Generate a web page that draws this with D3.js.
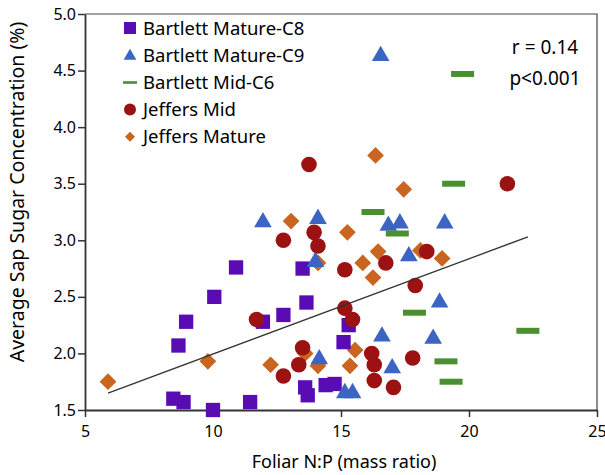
<!DOCTYPE html>
<html>
<head>
<meta charset="utf-8">
<script src="https://cdn.jsdelivr.net/npm/d3@7"></script>
<style>
  body { margin: 0; background: #fff; }
  svg text { font-family: "Noto Sans", "Open Sans", sans-serif; fill: #000; }
</style>
</head>
<body>
<div class="chart"></div>
<script>
// data
var c8X = [8.95, 8.65, 10.05, 10.9, 8.45, 8.85, 10.0, 11.45, 11.95, 12.75, 13.5, 13.65, 15.1, 15.3, 13.6, 13.7, 14.4, 14.75];
var c8Y = [2.28, 2.07, 2.50, 2.76, 1.60, 1.57, 1.50, 1.57, 2.28, 2.34, 2.75, 2.45, 2.10, 2.25, 1.70, 1.63, 1.72, 1.73];

var c9X = [16.55, 11.95, 14.1, 16.85, 17.3, 19.05, 17.65, 14.0, 18.85, 16.6, 18.6, 17.0, 14.15, 15.15, 15.45];
var c9Y = [4.63, 3.16, 3.19, 3.13, 3.15, 3.15, 2.86, 2.81, 2.45, 2.15, 2.13, 1.87, 1.95, 1.65, 1.65];

var c6X = [19.75, 16.25, 17.2, 19.4, 17.87, 19.1, 19.3, 22.3];
var c6Y = [4.47, 3.25, 3.06, 3.50, 2.36, 1.93, 1.75, 2.20];

var midX = [13.75, 13.95, 12.75, 14.1, 15.15, 16.75, 18.35, 17.9, 21.5, 11.7, 15.15, 15.45, 13.5, 13.35, 12.75, 16.2, 16.3, 16.3, 17.05, 17.8];
var midY = [3.67, 3.07, 3.00, 2.95, 2.74, 2.80, 2.90, 2.60, 3.50, 2.30, 2.40, 2.30, 2.05, 1.90, 1.80, 2.00, 1.90, 1.76, 1.70, 1.96];

var matX = [16.35, 17.45, 13.05, 15.25, 16.45, 18.1, 18.95, 14.1, 15.85, 16.25, 5.9, 9.8, 12.25, 13.6, 14.1, 15.55, 15.35];
var matY = [3.75, 3.45, 3.17, 3.07, 2.90, 2.91, 2.84, 2.80, 2.80, 2.67, 1.75, 1.93, 1.90, 2.00, 1.89, 2.03, 1.89];

// trend line end points
var trendX = [5.9, 22.3];
var trendY = [1.65, 3.03];

var xTicks = [5, 10, 15, 20, 25];
var yTicks = [1.5, 2.0, 2.5, 3.0, 3.5, 4.0, 4.5, 5.0];

var seriesNames = ["Bartlett Mature-C8", "Bartlett Mature-C9", "Bartlett Mid-C6", "Jeffers Mid", "Jeffers Mature"];
var seriesColors = ["#5a0cb4", "#3b64c3", "#4b9030", "#9c1212", "#c9651f"];

var svgWidth = 605;
var svgHeight = 475;
var margin = { top: 14, right: 8, bottom: 65, left: 85 };
var width = svgWidth - margin.left - margin.right;
var height = svgHeight - margin.top - margin.bottom;

var svg = d3.select(".chart").append("svg")
  .attr("width", svgWidth)
  .attr("height", svgHeight);

var chartGroup = svg.append("g")
  .attr("transform", `translate(${margin.left}, ${margin.top})`);

var x = d3.scaleLinear().domain([5, 25]).range([0, width]);
var y = d3.scaleLinear().domain([1.5, 5.0]).range([height, 0]);

// frame top + right
chartGroup.append("path")
  .attr("d", `M0,0H${width}V${height}`)
  .attr("fill", "none")
  .attr("stroke", "#444")
  .attr("stroke-width", 1.2);

// axes
var xAxis = chartGroup.append("g")
  .attr("transform", `translate(0, ${height})`)
  .call(d3.axisBottom(x).tickValues(xTicks).tickFormat(d3.format("d")).tickSize(7).tickSizeOuter(0));
var yAxis = chartGroup.append("g")
  .call(d3.axisLeft(y).tickValues(yTicks).tickFormat(d3.format(".1f")).tickSize(7).tickSizeOuter(0));

[xAxis, yAxis].forEach(function (ax) {
  ax.select(".domain").attr("stroke", "#333").attr("stroke-width", 1.8);
  ax.selectAll(".tick line").attr("stroke", "#333").attr("stroke-width", 1.5);
  ax.selectAll(".tick text").style("font-size", "16px").attr("fill", "#000");
});
xAxis.selectAll(".tick text").attr("dy", "1.05em");
yAxis.selectAll(".tick text").attr("x", -9);

// helper to zip arrays
function zip(xs, ys) {
  return xs.map(function (d, i) { return { x: d, y: ys[i] }; });
}

// Jeffers Mature diamonds
chartGroup.append("g").selectAll("path")
  .data(zip(matX, matY)).enter().append("path")
  .attr("transform", (d) => `translate(${x(d.x)},${y(d.y)}) rotate(45)`)
  .attr("d", d3.symbol(d3.symbolSquare, 140)())
  .attr("fill", seriesColors[4]);

// Bartlett Mature-C8 squares
chartGroup.append("g").selectAll("path")
  .data(zip(c8X, c8Y)).enter().append("path")
  .attr("transform", (d) => `translate(${x(d.x)},${y(d.y)})`)
  .attr("d", d3.symbol(d3.symbolSquare, 205)())
  .attr("fill", seriesColors[0]);

// Bartlett Mature-C9 triangles
chartGroup.append("g").selectAll("path")
  .data(zip(c9X, c9Y)).enter().append("path")
  .attr("transform", (d) => `translate(${x(d.x)},${y(d.y)})`)
  .attr("d", d3.symbol(d3.symbolTriangle, 135)())
  .attr("fill", seriesColors[1]);

// Jeffers Mid circles
chartGroup.append("g").selectAll("circle")
  .data(zip(midX, midY)).enter().append("circle")
  .attr("cx", (d) => x(d.x))
  .attr("cy", (d) => y(d.y))
  .attr("r", 7.8)
  .attr("fill", seriesColors[3]);

// Bartlett Mid-C6 dashes
chartGroup.append("g").selectAll("rect")
  .data(zip(c6X, c6Y)).enter().append("rect")
  .attr("x", (d) => x(d.x) - 11.5)
  .attr("y", (d) => y(d.y) - 3)
  .attr("width", 23)
  .attr("height", 6)
  .attr("fill", seriesColors[2]);

// trend line
chartGroup.append("line")
  .attr("x1", x(trendX[0])).attr("y1", y(trendY[0]))
  .attr("x2", x(trendX[1])).attr("y2", y(trendY[1]))
  .attr("stroke", "#333")
  .attr("stroke-width", 1.3);

// legend
var legend = svg.append("g").attr("transform", "translate(130, 28)");
seriesNames.forEach(function (name, i) {
  var g = legend.append("g").attr("transform", `translate(0, ${i * 27.2})`);
  if (i === 0) g.append("rect").attr("x", -6).attr("y", -6).attr("width", 12).attr("height", 12).attr("fill", seriesColors[i]);
  if (i === 1) g.append("path").attr("d", d3.symbol(d3.symbolTriangle, 70)()).attr("transform", "translate(0,1)").attr("fill", seriesColors[i]);
  if (i === 2) g.append("rect").attr("x", -7).attr("y", -1.2).attr("width", 14).attr("height", 2.6).attr("fill", seriesColors[i]);
  if (i === 3) g.append("circle").attr("r", 6).attr("fill", seriesColors[i]);
  if (i === 4) g.append("path").attr("d", d3.symbol(d3.symbolSquare, 50)()).attr("transform", "rotate(45)").attr("fill", seriesColors[i]);
  g.append("text")
    .attr("x", 13)
    .attr("y", 6.5)
    .style("font-size", "18.5px")
    .text(name);
});

// stats text
svg.append("text").attr("x", 545).attr("y", 54).attr("text-anchor", "middle")
  .style("font-size", "19px").text("r = 0.14");
svg.append("text").attr("x", 545).attr("y", 85).attr("text-anchor", "middle")
  .style("font-size", "19px").text("p<0.001");

// axis labels
svg.append("text")
  .attr("x", 344)
  .attr("y", 468)
  .attr("text-anchor", "middle")
  .style("font-size", "18px")
  .text("Foliar N:P (mass ratio)");

svg.append("text")
  .attr("transform", "rotate(-90)")
  .attr("x", -192)
  .attr("y", 24)
  .attr("text-anchor", "middle")
  .style("font-size", "19.5px")
  .text("Average Sap Sugar Concentration (%)");
</script>
</body>
</html>
